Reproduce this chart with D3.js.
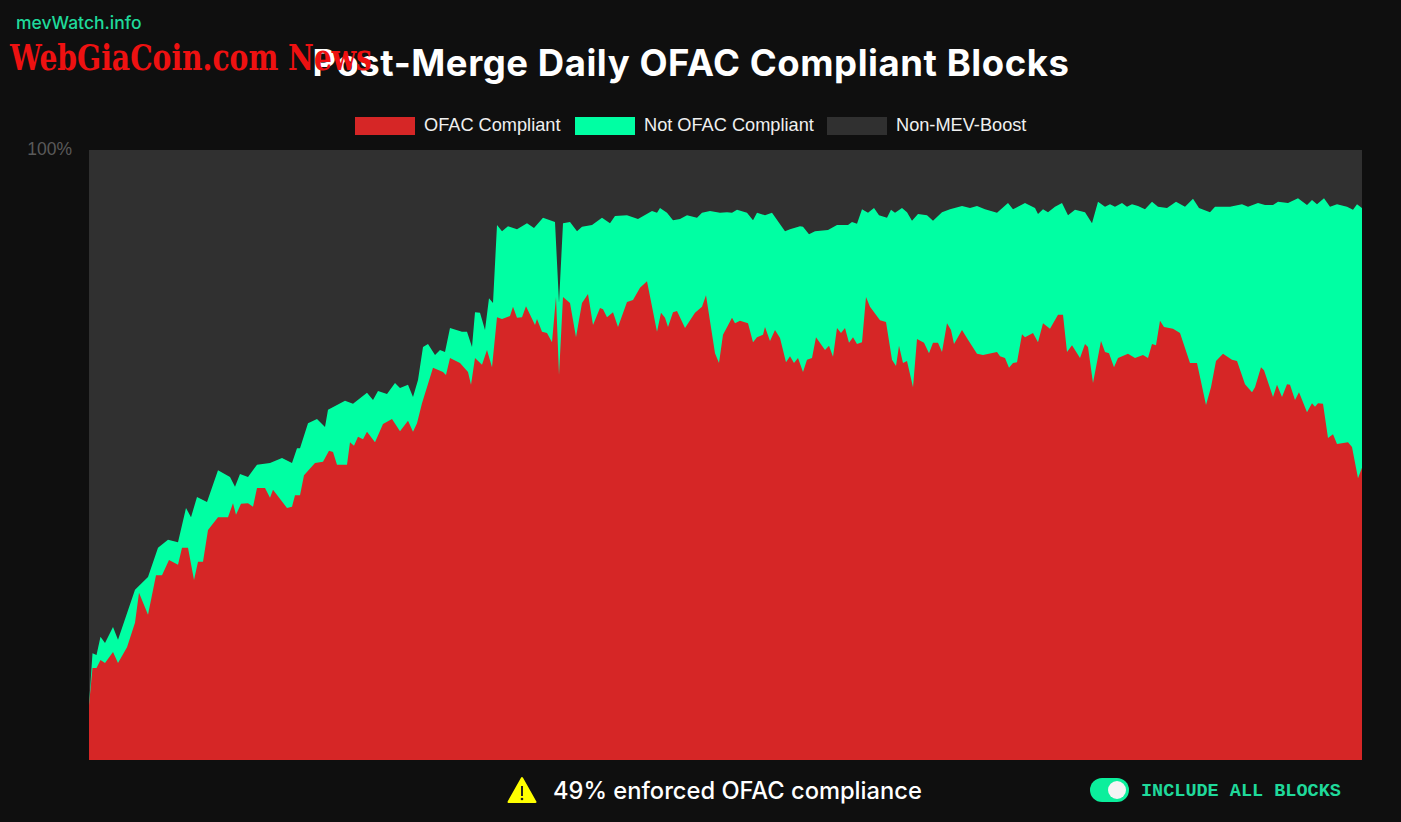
<!DOCTYPE html>
<html>
<head>
<meta charset="utf-8">
<title>Post-Merge Daily OFAC Compliant Blocks</title>
<script src="https://d3js.org/d3.v7.min.js"></script>
<style>
    html, body { margin: 0; padding: 0; background: #0f0f0f; overflow: hidden; }
    svg { display: block; }
</style>
</head>
<body>
<div id="chart"></div>
<script>
// Days since the merge and the share of blocks
const boostDays = [0,0.7,1.5,2.3,3.2,4.8,5.8,9.2,11.8,13.8,15.8,17.8,19.4,20.4,21.6,23.6,25.8,28.2,29.2,30.2,31.8,33.6,36.2,38.6,40.6,41.6,42.2,43.8,45.6,47.2,47.8,49.6,51.2,52.8,55.6,56.8,57.8,59.6,61.2,62.2,63.8,64.8,65.8,66.8,67.8,69.2,70.2,71.2,72.2,74.6,75.6,76.6,77.2,78.2,79.2,80,80.8,81.6,82.6,83.8,85.6,87.6,89,90.8,93.2,94,94.8,96.2,97.6,98.6,100.6,102.6,104.2,105.2,107.6,109.8,112.6,113.6,114.2,115.6,116.8,118.2,119.6,121.6,122.6,124.2,126.2,127.6,128.6,129.6,131.6,132.8,133.6,135.2,136.6,139.2,140.2,142.2,142.8,144,145.2,147.8,149.6,151.8,152.6,153.6,154.6,155.8,157,158,159.6,160.4,161.2,162.6,163.6,164.6,165.8,167.6,168.8,170.6,172.2,174.6,176.2,177.6,179.2,181.6,183.8,184.8,187.2,189.2,189.8,190.8,191.8,193.2,194.6,195.8,197.2,199.2,200.6,201.8,203.2,204.2,205.2,206.6,207.6,208.6,209.8,211.2,212.6,213.8,215.6,217.4,219.2,220.8,222,224.2,225.2,228.2,230.6,231.8,233.8,235.2,236.8,237.8,239.8,241.8,243.6,244.6,245.6,247,248.2,249.6,251.6,252.8,253.6,254.6];
const boostShare = [9,17.5,17.2,20.2,19.2,21.8,19.7,27.9,30,34.8,36.1,35.7,41.3,39.8,43.1,42.3,47.5,46.4,44.8,46.9,46.4,48.4,48.7,49.5,48.7,51.1,51.1,55.2,55.9,54.6,57.4,58.2,58.9,58.4,60.2,59,60.5,60,61.8,61,61.5,59.5,62.3,67.7,68.2,66.4,67.2,66.9,70.8,70.2,70.2,67.7,73.4,73.3,70.5,75.7,74.9,87.7,86.7,87.5,87,88,87.2,88.9,88.2,74.9,88,88.2,86.7,87.4,87.7,88.9,88,89.2,89.3,88.7,90,89.7,90.5,89.7,88.5,88.7,89.3,88.9,89.7,90,89.7,89.8,89.7,90.2,89.7,88.5,89.7,89.3,89.7,86.7,87,87.5,87.4,86.2,86.7,86.9,87.7,87.7,88.2,87.9,90.3,89.7,90.5,89.3,88.9,90.2,89.7,90.5,89.8,88.4,89.5,89.3,88.4,89.8,90.3,90.8,90.5,90.8,90.3,89.7,91.3,90.3,91.3,90.5,89.5,90.3,89.8,90.7,91.3,89.3,90.2,89.8,88,91.5,90.7,91.1,90.7,91.3,90.7,91.1,90.8,90.3,91.5,90.7,90.5,91.5,90.7,92,90.5,89.8,90.7,90.7,91.1,90.7,91.3,91,91,91.5,91.3,92.1,91,91.8,91.1,92.1,90.7,91.1,90.7,90.2,91.1,90.5];

const ofacDays = [0,0.7,1.5,2.3,3.2,4.8,5.8,7.6,9.2,10,11.8,13.4,14.6,16,17.8,18.6,19.8,21,21.8,22.8,23.8,25.8,27.8,28.8,29.4,30.4,31.8,32.8,33.6,35.2,36.2,36.8,39.6,40.6,41.2,42.2,43,45.2,46.8,48,48.8,49.6,51.6,52.2,53,53.8,54.8,55.6,57.2,58.8,60.6,62.2,63.8,64.8,65.6,66.6,68.8,70.8,71.4,72.2,74.2,75.8,76.4,77.2,78.6,79.6,80.6,81.6,82.6,84.2,84.8,85.6,86.6,87.4,89.2,89.6,90.6,91.6,92.6,93.4,94,94.8,96.2,97.4,98.6,99.8,100.8,102.2,102.8,103.6,104.8,105.8,107.6,108.8,110.2,111.6,113.6,114.4,115.2,115.8,116.8,117.6,119.2,121.2,122.6,123.4,125.2,126,126.8,128.6,129.2,130.2,131.8,132.8,133.6,134.8,135.2,136.2,137.2,138.2,139.4,140.2,141,141.8,142.8,143.6,144.6,145.4,147.2,148,148.8,149.6,150.4,151.2,152,152.8,153.6,154.6,155.4,156.2,158.2,159.4,160.6,161.4,162,162.8,163.6,164.8,165.6,167,168,168.8,169.8,170.6,171.6,172.4,173,174.6,175.8,177.6,178.8,181.6,182.2,183.2,184,184.8,185.6,186.6,187.2,188.8,189.8,190.8,192.2,193.8,194.8,195.6,196.6,198.2,199.2,199.8,200.8,202.4,203.2,204,205,205.8,207.8,209.2,210.8,211.8,212.6,213.4,214.2,215,216.8,218.2,220.2,221.6,223.4,224.4,225.4,226.8,228.6,229.6,231.2,232.6,233.2,234.4,235,236.8,237.6,238.6,239.6,240.2,241.2,242,243.6,244.6,245.2,245.8,246.8,247.8,248.8,249.6,251.8,252.6,253.8,254.6];
const ofacShare = [9,15.1,15.1,16.4,15.9,17.7,15.9,18.5,22.5,27.4,23.8,30.3,30.3,32.8,32,34.8,34.8,29.5,32.5,32.5,37.7,39.8,39.8,42.1,40.2,42,42.1,41.5,44.6,44.6,43,44.3,41.3,41.5,43.4,43.4,46.7,48.7,48.9,50.7,50.5,48.4,48.4,52.1,51.5,53,52.6,53.8,52.1,55.1,55.9,53.9,55.6,53.8,55.2,58.5,64.3,63.6,63.1,65.9,65.1,63.6,61.5,65.9,64.8,67.2,64.4,72.6,72.3,72.8,74.3,72.5,72.6,74.4,71.3,72.3,70.2,70,68.5,75.9,63.1,75.9,74.9,69.3,74.9,76.4,71.3,74.1,73.9,72.6,73.4,71,75.1,75.4,77.4,78.5,70.2,73.3,72.5,71,73.4,73.6,70.8,73.3,74.3,76.2,66.7,65.1,69.7,72.5,71.6,72,71.6,68.5,69.3,69.7,71,68.7,70.5,69.2,65.2,66.2,65.1,65.9,63.6,65.6,65.9,69.3,67.2,67.9,66.1,70.8,70,70.8,68.4,69.3,68.2,68.5,75.9,74.3,72.1,71.8,65.6,64.6,67.9,65.1,65.4,61.1,69,68.4,66.7,68.4,68.4,66.9,71.6,70.5,68.2,70.5,68.9,66.6,66.4,66.9,66.2,65.9,64.3,65.1,65.2,69.8,69.3,70,68.5,71.6,70.7,73,73,66.9,68,65.9,68.2,67.7,61.8,68.7,66.9,66.7,64.4,65.9,66.6,65.9,66.4,65.9,68.2,68,72,71,70.7,70,65.1,65.1,58.2,61.1,65.4,66.6,65.6,65.4,61.6,60.3,61.1,64.4,63.9,59.5,61.5,59.5,61.6,61.5,59,60.3,57,58.5,57.9,58.5,58.4,52.8,53.4,51.8,52.1,51.3,46.2,47.9];

const seriesNames = ["OFAC Compliant", "Not OFAC Compliant", "Non-MEV-Boost"];
const seriesColors = ["#d62626", "#00ffa3", "#303030"];
const yTickValues = [100];

const width = 1401;
const height = 822;
const margin = { top: 150, right: 39, bottom: 62, left: 89 };

const svg = d3.select("#chart")
    .append("svg")
    .attr("width", width)
    .attr("height", height);

const x = d3.scaleLinear()
    .domain([0, d3.max(boostDays)])
    .range([margin.left, width - margin.right]);

const y = d3.scaleLinear()
    .domain([0, 100])
    .range([height - margin.bottom, margin.top]);

// Areas are painted back to front: non-boost, then boost, then compliant on top
const area = d3.area()
    .x(d => x(d[0]))
    .y0(y(0))
    .y1(d => y(d[1]));

svg.append("path")
    .attr("d", area([[0, 100], [d3.max(boostDays), 100]]))
    .attr("fill", seriesColors[2]);

svg.append("path")
    .attr("d", area(d3.zip(boostDays, boostShare)))
    .attr("fill", seriesColors[1]);

svg.append("path")
    .attr("d", area(d3.zip(ofacDays, ofacShare)))
    .attr("fill", seriesColors[0]);

// Y axis only has the top label
const yAxis = svg.append("g")
    .attr("transform", `translate(${margin.left},0)`)
    .call(d3.axisLeft(y).tickValues(yTickValues).tickFormat(d => d + "%").tickSize(0).tickPadding(17));
yAxis.select(".domain").remove();
yAxis.selectAll("text")
    .attr("font-family", "'Liberation Sans', Arial, sans-serif")
    .attr("font-size", 17.5)
    .attr("dy", "0.25em")
    .attr("fill", "#5a5a5a");

// Legend
const legendX = [355, 575, 827];
const legend = svg.append("g")
    .selectAll("g")
    .data(seriesNames)
    .enter().append("g")
    .attr("transform", (d, i) => `translate(${legendX[i]},117)`);

legend.append("rect")
    .attr("width", 60)
    .attr("height", 18)
    .attr("fill", (d, i) => seriesColors[i]);

legend.append("text")
    .attr("x", 69)
    .attr("y", 8)
    .attr("dy", "0.35em")
    .attr("font-family", "'Liberation Sans', Arial, sans-serif")
    .attr("font-size", 18.2)
    .attr("fill", "#f0f0f0")
    .text(d => d);

// Header texts
svg.append("text")
    .attr("x", 16)
    .attr("y", 29)
    .attr("font-family", "Inter, sans-serif")
    .attr("font-weight", 500)
    .attr("font-size", 17.5)
    .attr("fill", "#1fd99a")
    .text("mevWatch.info");

svg.append("text")
    .attr("x", 691)
    .attr("y", 76)
    .attr("text-anchor", "middle")
    .attr("font-family", "Inter, sans-serif")
    .attr("font-weight", 700)
    .attr("font-size", 36.5)
    .attr("letter-spacing", 0.55)
    .attr("fill", "#ffffff")
    .text("Post-Merge Daily OFAC Compliant Blocks");

// Watermark sits over the title in the reference too
svg.append("text")
    .attr("x", 10)
    .attr("y", 70)
    .attr("font-family", "'DejaVu Serif', serif")
    .attr("font-weight", 700)
    .attr("font-size", 35)
    .attr("textLength", 362)
    .attr("lengthAdjust", "spacingAndGlyphs")
    .attr("fill", "#ee1111")
    .text("WebGiaCoin.com News");

// Footer: warning and toggle
const warning = svg.append("g").attr("transform", "translate(522,790)");
warning.append("path")
    .attr("d", "M0,-12 L13.5,12 L-13.5,12 Z")
    .attr("fill", "#ffff00")
    .attr("stroke", "#ffff00")
    .attr("stroke-width", 2)
    .attr("stroke-linejoin", "round");
warning.append("rect")
    .attr("x", -1).attr("y", -4)
    .attr("width", 2).attr("height", 10)
    .attr("fill", "#222");
warning.append("circle")
    .attr("cy", 9)
    .attr("r", 1.3)
    .attr("fill", "#222");

svg.append("text")
    .attr("x", 553)
    .attr("y", 799)
    .attr("font-family", "Inter, sans-serif")
    .attr("font-weight", 500)
    .attr("font-size", 23.7)
    .attr("fill", "#ffffff")
    .text("49% enforced OFAC compliance");

svg.append("rect")
    .attr("x", 1090).attr("y", 778)
    .attr("width", 39).attr("height", 24)
    .attr("rx", 12)
    .attr("fill", "#0bef9c");
svg.append("circle")
    .attr("cx", 1117).attr("cy", 790)
    .attr("r", 9)
    .attr("fill", "#f4f4f4");

svg.append("text")
    .attr("x", 1141)
    .attr("y", 796)
    .attr("font-family", "'Liberation Mono', monospace")
    .attr("font-weight", 700)
    .attr("font-size", 18.5)
    .attr("fill", "#1fd99a")
    .text("INCLUDE ALL BLOCKS");
</script>
</body>
</html>
